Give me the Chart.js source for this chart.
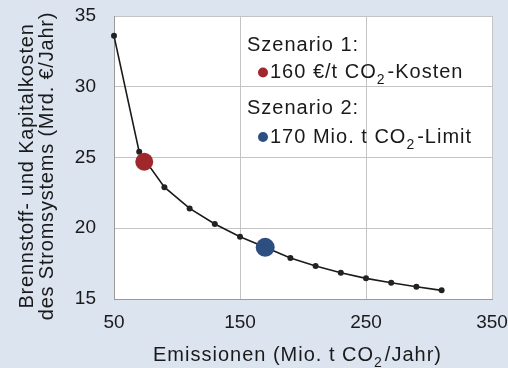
<!DOCTYPE html>
<html>
<head>
    <title>Brennstoff- und Kapitalkosten</title>
    <script src="https://cdn.jsdelivr.net/npm/chart.js"></script>
    <style>
        body { margin: 0; background: #dce4f0; }
        .chart-container { width: 508px; height: 368px; }
    </style>
</head>
<body>
    <div class="chart-container">
        <canvas id="costChart" width="508" height="368"></canvas>
    </div>

    <script>
        // Emissionen (Mio. t CO2/Jahr) vs. Kosten (Mrd. €/Jahr)
        const emissions = [50, 70, 90, 110, 130, 150, 170, 190, 210, 230, 250, 270, 290, 310];
        const costs = [33.6, 25.4, 22.9, 21.4, 20.3, 19.4, 18.65, 17.9, 17.33, 16.86, 16.46, 16.15, 15.87, 15.61];

        const scenario1X = [74];
        const scenario1Y = [24.7];
        const scenario2X = [170];
        const scenario2Y = [18.65];

        const xTicks = [50, 150, 250, 350];
        const yTicks = [15, 20, 25, 30, 35];

        const yTitle = ['Brennstoff- und Kapitalkosten', 'des Stromsystems (Mrd. €/Jahr)'];

        const red = '#a0282c';
        const blue = '#2c4e80';
        const textColor = '#1a1a1a';
        const fontFamily = '"Liberation Sans", Arial, sans-serif';

        const toPoints = (xs, ys) => xs.map((x, i) => ({ x: x, y: ys[i] }));

        // draws text with subscript parts, e.g. CO2
        function richText(ctx, parts, x, y, size) {
            let cx = x;
            parts.forEach(p => {
                if (p.sub) {
                    ctx.font = Math.round(size * 0.72) + 'px ' + fontFamily;
                    ctx.fillText(p.t, cx, y + size * 0.28);
                    cx += ctx.measureText(p.t).width + 2;
                } else {
                    ctx.font = size + 'px ' + fontFamily;
                    ctx.fillText(p.t, cx, y);
                    cx += ctx.measureText(p.t).width;
                }
            });
        }

        // fixed axis box sizes, no extra label padding
        function fixBox(s, w, h) {
            if (w) s.width = w;
            if (h) s.height = h;
            s.paddingTop = 0;
            s.paddingBottom = 0;
            s.paddingLeft = 0;
            s.paddingRight = 0;
        }

        const annotations = {
            id: 'annotations',
            beforeDraw(chart) {
                const { ctx, chartArea: a } = chart;
                ctx.save();
                ctx.fillStyle = '#ffffff';
                ctx.fillRect(a.left, a.top, a.right - a.left, a.bottom - a.top);
                ctx.restore();
            },
            afterDraw(chart) {
                const { ctx, chartArea: a } = chart;
                ctx.save();
                ctx.fillStyle = textColor;
                ctx.textBaseline = 'alphabetic';
                ctx.textAlign = 'left';
                ctx.letterSpacing = '1px';

                // legend box inside the plot
                const lx = a.left + 133;
                richText(ctx, [{ t: 'Szenario 1:' }], lx, a.top + 35, 20);
                richText(ctx, [{ t: '160 €/t CO' }, { t: '2', sub: true }, { t: '-Kosten' }], lx + 23, a.top + 62, 20);
                richText(ctx, [{ t: 'Szenario 2:' }], lx, a.top + 98, 20);
                richText(ctx, [{ t: '170 Mio. t CO' }, { t: '2', sub: true }, { t: '-Limit' }], lx + 23, a.top + 127, 20);

                ctx.fillStyle = red;
                ctx.beginPath();
                ctx.arc(lx + 16, a.top + 56.5, 5, 0, Math.PI * 2);
                ctx.fill();
                ctx.fillStyle = blue;
                ctx.beginPath();
                ctx.arc(lx + 16, a.top + 121, 5, 0, Math.PI * 2);
                ctx.fill();

                // x axis title
                ctx.fillStyle = textColor;
                richText(ctx, [{ t: 'Emissionen (Mio. t CO' }, { t: '2', sub: true }, { t: '/Jahr)' }], a.left + 39, 361, 20);

                // y axis title, two rotated lines
                ctx.letterSpacing = '0.8px';
                ctx.font = '20px ' + fontFamily;
                ctx.textAlign = 'center';
                ctx.textBaseline = 'middle';
                ctx.translate(27, 166);
                ctx.rotate(-Math.PI / 2);
                ctx.fillText(yTitle[0], 0, 0);
                ctx.fillText(yTitle[1], 0, 20);
                ctx.restore();
            }
        };

        const ctx = document.getElementById('costChart').getContext('2d');
        const chart = new Chart(ctx, {
            type: 'scatter',
            data: {
                datasets: [
                    {
                        label: 'Kosten',
                        data: toPoints(emissions, costs),
                        showLine: true,
                        clip: false,
                        borderColor: '#1a1a1a',
                        borderWidth: 1.6,
                        pointRadius: 3,
                        pointBackgroundColor: '#222222',
                        pointBorderWidth: 0,
                        order: 1
                    },
                    {
                        label: 'Szenario 1',
                        data: toPoints(scenario1X, scenario1Y),
                        pointRadius: 9,
                        pointBackgroundColor: red,
                        pointBorderWidth: 0,
                        order: 0
                    },
                    {
                        label: 'Szenario 2',
                        data: toPoints(scenario2X, scenario2Y),
                        pointRadius: 9.5,
                        pointBackgroundColor: blue,
                        pointBorderWidth: 0,
                        order: 0
                    }
                ]
            },
            options: {
                responsive: false,
                animation: false,
                layout: { padding: { top: 16, right: 16, left: 0, bottom: 0 } },
                plugins: {
                    legend: { display: false },
                    tooltip: { enabled: false }
                },
                scales: {
                    x: {
                        type: 'linear',
                        min: 50,
                        max: 350,
                        afterBuildTicks: s => { s.ticks = xTicks.map(v => ({ value: v })); },
                        afterFit: s => fixBox(s, 0, 69),
                        grid: { color: '#c4c4c4', drawTicks: false },
                        border: { color: '#9a9a9a' },
                        ticks: { color: textColor, padding: 12, maxRotation: 0, font: { size: 19, family: fontFamily } }
                    },
                    y: {
                        min: 15,
                        max: 35,
                        afterBuildTicks: s => { s.ticks = yTicks.map(v => ({ value: v })); },
                        afterFit: s => fixBox(s, 114, 0),
                        grid: { color: '#c4c4c4', drawTicks: false },
                        border: { color: '#9a9a9a' },
                        ticks: { color: textColor, padding: 18, font: { size: 19, family: fontFamily } }
                    }
                }
            },
            plugins: [annotations]
        });
    </script>
</body>
</html>
